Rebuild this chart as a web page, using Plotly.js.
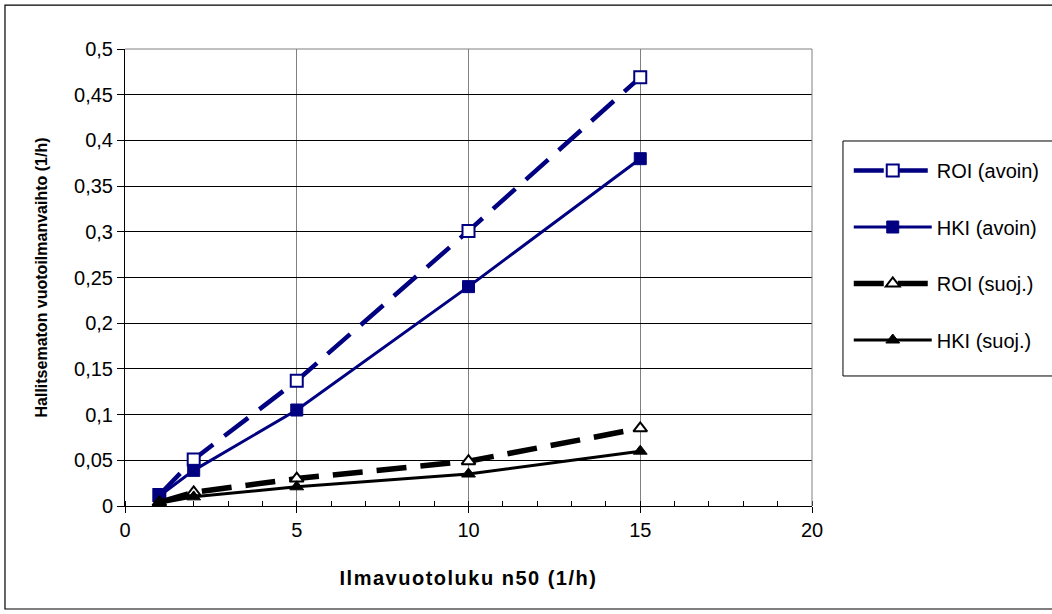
<!DOCTYPE html>
<html>
<head>
<meta charset="utf-8">
<script src="https://cdn.plot.ly/plotly-3.0.1.min.js"></script>
<style>
html,body{margin:0;padding:0;background:#fff;}
#chart{width:1052px;height:614px;}
.g-xtitle text{letter-spacing:1.5px;}
</style>
</head>
<body>
<div id="chart"></div>
<script>
var xValues = [1, 2, 5, 10, 15];
var roiAvoin = [0.012, 0.051, 0.137, 0.301, 0.469];
var hkiAvoin = [0.011, 0.039, 0.105, 0.24, 0.38];
var roiSuoj = [0.004, 0.015, 0.03, 0.049, 0.085];
var hkiSuoj = [0.003, 0.01, 0.021, 0.035, 0.06];
var seriesNames = ['ROI (avoin)', 'HKI (avoin)', 'ROI (suoj.)', 'HKI (suoj.)'];
var yTickVals = [0, 0.05, 0.1, 0.15, 0.2, 0.25, 0.3, 0.35, 0.4, 0.45, 0.5];
var yTickText = ['0', '0,05', '0,1', '0,15', '0,2', '0,25', '0,3', '0,35', '0,4', '0,45', '0,5'];
var xTickVals = [0, 5, 10, 15, 20];

var navy = '#000080';
var traces = [
  {x: xValues, y: roiAvoin, name: seriesNames[0], mode: 'lines+markers', legendgroup: 'a',
   line: {color: navy, width: 4.5, dash: '30px,14px'},
   marker: {symbol: 'square', size: 12, color: '#fff', line: {color: navy, width: 2}}},
  {x: xValues, y: hkiAvoin, name: seriesNames[1], mode: 'lines+markers', legendgroup: 'b',
   line: {color: navy, width: 3},
   marker: {symbol: 'square', size: 12, color: navy, line: {color: navy, width: 1}}},
  {x: xValues, y: roiSuoj, name: seriesNames[2], mode: 'lines+markers', legendgroup: 'c',
   line: {color: '#000', width: 5.5, dash: '30px,14px'},
   marker: {symbol: 'triangle-up', size: 12, color: '#fff', line: {color: '#000', width: 2}}},
  {x: xValues, y: hkiSuoj, name: seriesNames[3], mode: 'lines+markers', legendgroup: 'd',
   line: {color: '#000', width: 3},
   marker: {symbol: 'triangle-up', size: 12, color: '#000', line: {color: '#000', width: 1}}}
];

var layout = {
  width: 1052, height: 614,
  margin: {l: 125, r: 240, t: 49, b: 108, autoexpand: false},
  paper_bgcolor: '#fff', plot_bgcolor: '#fff',
  font: {family: '"Liberation Sans", Arial, sans-serif', size: 20, color: '#000'},
  showlegend: true,
  legend: {x: 1.0535, xanchor: 'left', y: 0.7768, yanchor: 'top',
    borderwidth: 0, bgcolor: 'rgba(0,0,0,0)',
    font: {size: 20}, itemwidth: 78, tracegroupgap: 27.5, traceorder: 'grouped'},
  xaxis: {range: [0, 20], tickvals: xTickVals, ticks: 'outside', ticklen: 6, tickcolor: '#000',
    tickfont: {size: 20}, automargin: false,
    showgrid: true, gridcolor: '#808080', gridwidth: 1, zeroline: false,
    showline: true, linecolor: '#000', linewidth: 1,
    minor: {dtick: 1, ticks: 'inside', ticklen: 5, tickcolor: '#000', showgrid: false},
    title: {text: '<b>Ilmavuotoluku n50 (1/h)</b>', font: {size: 20}, standoff: 30}},
  yaxis: {range: [0, 0.5], tickvals: yTickVals, ticktext: yTickText, ticks: 'outside', ticklen: 7, tickcolor: '#000',
    tickfont: {size: 20}, automargin: false,
    showgrid: true, gridcolor: '#000', gridwidth: 1, zeroline: false,
    showline: true, linecolor: '#000', linewidth: 1,
    title: {text: '<b>Hallitsematon vuotoilmanvaihto (1/h)</b>', font: {size: 16}, standoff: 22}},
  shapes: [
    {type: 'rect', xref: 'paper', yref: 'paper', x0: -0.1747, x1: 1.37, y0: -0.2254, y1: 1.096,
     line: {color: '#000', width: 1.2}, fillcolor: 'rgba(0,0,0,0)', layer: 'below'},
    {type: 'rect', xref: 'paper', yref: 'paper', x0: 1.0451, x1: 1.37, y0: 0.2845, y1: 0.7987,
     line: {color: '#000', width: 1}, fillcolor: 'rgba(0,0,0,0)', layer: 'below'},
    {type: 'line', xref: 'paper', yref: 'paper', x0: 1, x1: 1, y0: 0, y1: 1,
     line: {color: '#808080', width: 1}},
    {type: 'line', xref: 'paper', yref: 'paper', x0: 0, x1: 1, y0: 1, y1: 1,
     line: {color: '#808080', width: 1}}
  ]
};

Plotly.newPlot('chart', traces, layout, {displayModeBar: false, staticPlot: true});
</script>
</body>
</html>
